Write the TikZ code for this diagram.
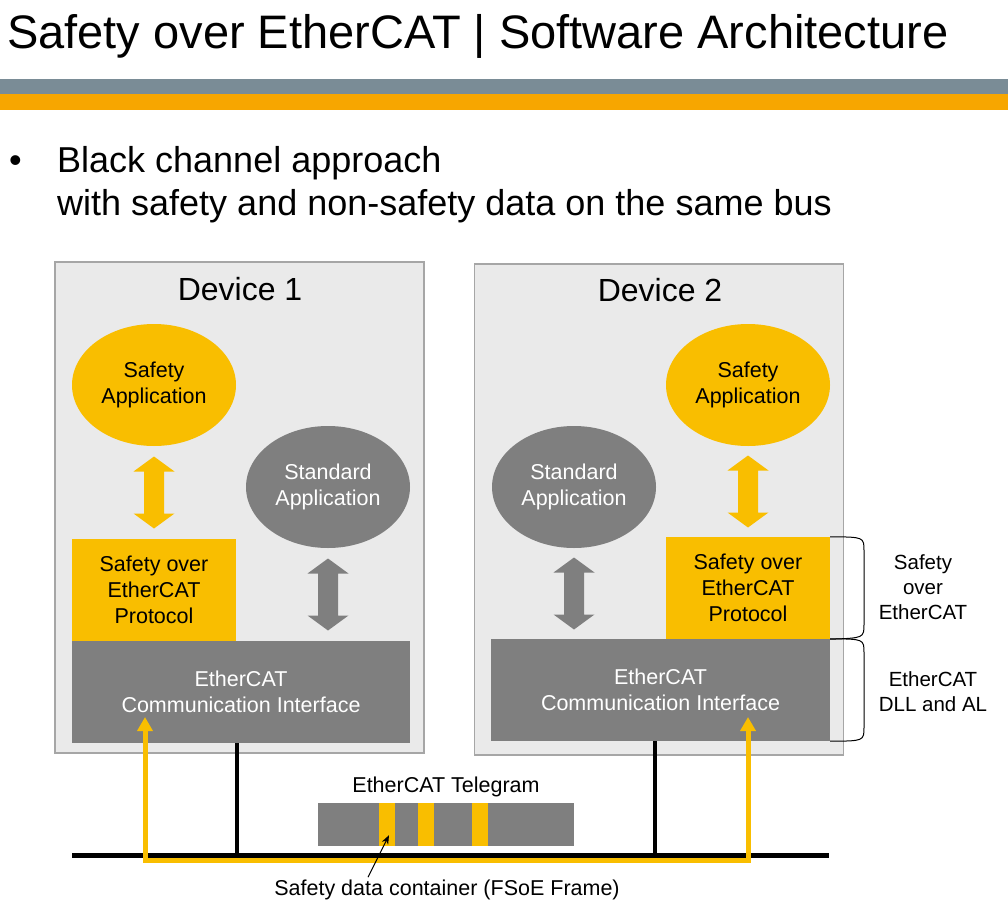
\documentclass[tikz,border=0pt]{standalone}
\usepackage{fontspec}
\setmainfont{Liberation Sans}
\usetikzlibrary{arrows.meta}
\usetikzlibrary{calc}
\usetikzlibrary{positioning, shapes.geometric}
\definecolor{fsyellow}{HTML}{F9BE00}
\definecolor{ecgray}{HTML}{7F7F7F}
\definecolor{devfill}{HTML}{EAEAEA}
\definecolor{devline}{HTML}{A6A6A6}
\definecolor{bargray}{HTML}{7A8C96}
\definecolor{barorange}{HTML}{F7A600}

\tikzset{
  device/.style={draw=devline, line width=1.2pt, fill=devfill, minimum width=369pt, minimum height=491pt, inner sep=0pt},
  devlabel/.style={anchor=base, inner sep=0pt, font=\fontsize{32}{38}\selectfont},
  safeapp/.style={ellipse, fill=fsyellow, minimum width=164pt, minimum height=122pt, inner sep=0pt, align=center},
  stdapp/.style={ellipse, fill=ecgray, text=white, minimum width=164pt, minimum height=122pt, inner sep=0pt, align=center},
  protocol/.style={fill=fsyellow, minimum width=164pt, minimum height=102pt, inner sep=0pt, align=center},
  comif/.style={fill=ecgray, text=white, minimum width=338pt, minimum height=102pt, inner sep=0pt, align=center},
  bus/.style={line width=5pt},
  drop/.style={line width=4.5pt},
  safeline/.style={draw=fsyellow, line width=5pt, line join=miter,
    {Triangle[length=14pt,width=15pt]}-{Triangle[length=14pt,width=15pt]}},
  pointer/.style={line width=1pt, -{Stealth[length=9pt,width=7pt]}},
  bracket/.style={line width=1pt},
  sidelabel/.style={align=center, inner sep=0pt, font=\fontsize{20.5}{25}\selectfont},
  pics/updown/.style={code={
    \fill (0,-36) -- (20.5,-21) -- (10,-21) -- (10,21) -- (20.5,21) -- (0,36)
      -- (-20.5,21) -- (-10,21) -- (-10,-21) -- (-20.5,-21) -- cycle;
  }},
}

\begin{document}
\begin{tikzpicture}[x=1pt, y=-1pt, font=\fontsize{21.5}{26}\selectfont]
    \useasboundingbox (0,0) rectangle (1008,904);
    % header
    \node[anchor=base west, inner sep=0pt, font=\fontsize{47}{56}\selectfont] (title) at (7,49)
      {Safety over EtherCAT | Software Architecture};
    \fill[bargray] (0,79) rectangle (1008,94);
    \fill[barorange] (0,94) rectangle (1008,110);
    \node[anchor=base west, inner sep=0pt, font=\fontsize{36}{43}\selectfont] (bullet) at (9,172) {•};
    \node[anchor=base west, inner sep=0pt, font=\fontsize{36}{43}\selectfont] (point1) at (57,172)
      {Black channel approach};
    \node[anchor=base west, inner sep=0pt, font=\fontsize{36}{43}\selectfont] (point2) at (57,215)
      {with safety and non-safety data on the same bus};
    % device 1
    \node[device] (dev1) at (239.5,507.5) {};
    \node[devlabel] (dev1label) at (240,300) {Device 1};
    \node[safeapp] (sa1) at (154,385) {Safety\\Application};
    \node[stdapp] (st1) at (328,487) {Standard\\Application};
    \node[protocol] (sp1) at (154,590) {Safety over\\EtherCAT\\Protocol};
    \node[comif] (ci1) at (241,692) {EtherCAT\\Communication Interface};
    \pic[fsyellow] at ($(sa1.south)!0.5!(sp1.north)$) {updown};
    \pic[ecgray] at ($(st1.south)!0.5!(st1.south |- ci1.north)$) {updown};
    % device 2
    \node[device] (dev2) at (659,509.5) {};
    \node[devlabel] (dev2label) at (660,301) {Device 2};
    \node[safeapp] (sa2) at (748,385) {Safety\\Application};
    \node[stdapp] (st2) at (574,487) {Standard\\Application};
    \node[protocol] (sp2) at (748,588) {Safety over\\EtherCAT\\Protocol};
    \node[comif, minimum width=339pt] (ci2) at (660.5,690) {EtherCAT\\Communication Interface};
    \pic[fsyellow] at ($(sa2.south)!0.5!(sp2.north)$) {updown};
    \pic[ecgray] at ($(st2.south)!0.5!(st2.south |- ci2.north)$) {updown};
    % bus
    \coordinate (busL) at (72,855);
    \coordinate (busR) at (829,855);
    \coordinate (low) at (0,860);
    \coordinate (tap1) at (145,717);
    \coordinate (tap2) at (748,717);
    \draw[drop] ([xshift=-4pt]ci1.south) -- ([xshift=-4pt]ci1.south |- busL);
    \draw[drop] ([xshift=-5.5pt]ci2.south) -- ([xshift=-5.5pt]ci2.south |- busL);
    \draw[bus] (busL) -- (busR);
    \draw[safeline] (tap1) -- (tap1 |- low) -- (tap2 |- low) -- (tap2);
    % telegram
    \node[fill=ecgray, minimum width=256pt, minimum height=43pt, inner sep=0pt] (tg) at (446,824.5) {};
    \node[fill=fsyellow, minimum width=16pt, minimum height=43pt, inner sep=0pt] (fs1) at (387,824.5) {};
    \node[fill=fsyellow, minimum width=16pt, minimum height=43pt, inner sep=0pt] (fs2) at (426,824.5) {};
    \node[fill=fsyellow, minimum width=16pt, minimum height=43pt, inner sep=0pt] (fs3) at (480,824.5) {};
    \node[inner sep=0pt, above=5.5pt of tg] (tglabel) {EtherCAT Telegram};
    \node[anchor=base, inner sep=0pt] (note) at (447,895) {Safety data container (FSoE Frame)};
    \draw[pointer] ([xshift=-79pt,yshift=2pt]note.north) -- ([xshift=2pt,yshift=11pt]fs1.south);
    % brackets
    \draw[bracket] (sp2.north east) .. controls (864,537) .. (864,551) -- (864,624)
      .. controls (864,638) .. (sp2.south east);
    \draw[bracket] (ci2.north east) .. controls (864,639) .. (864,653) -- (864,727)
      .. controls (864,741) .. (ci2.south east);
    \node[sidelabel] (fsoelabel) at (923,587) {Safety\\over\\EtherCAT};
    \node[sidelabel] (dlllabel) at (933,692) {EtherCAT\\DLL and AL};
\end{tikzpicture}
\end{document}
